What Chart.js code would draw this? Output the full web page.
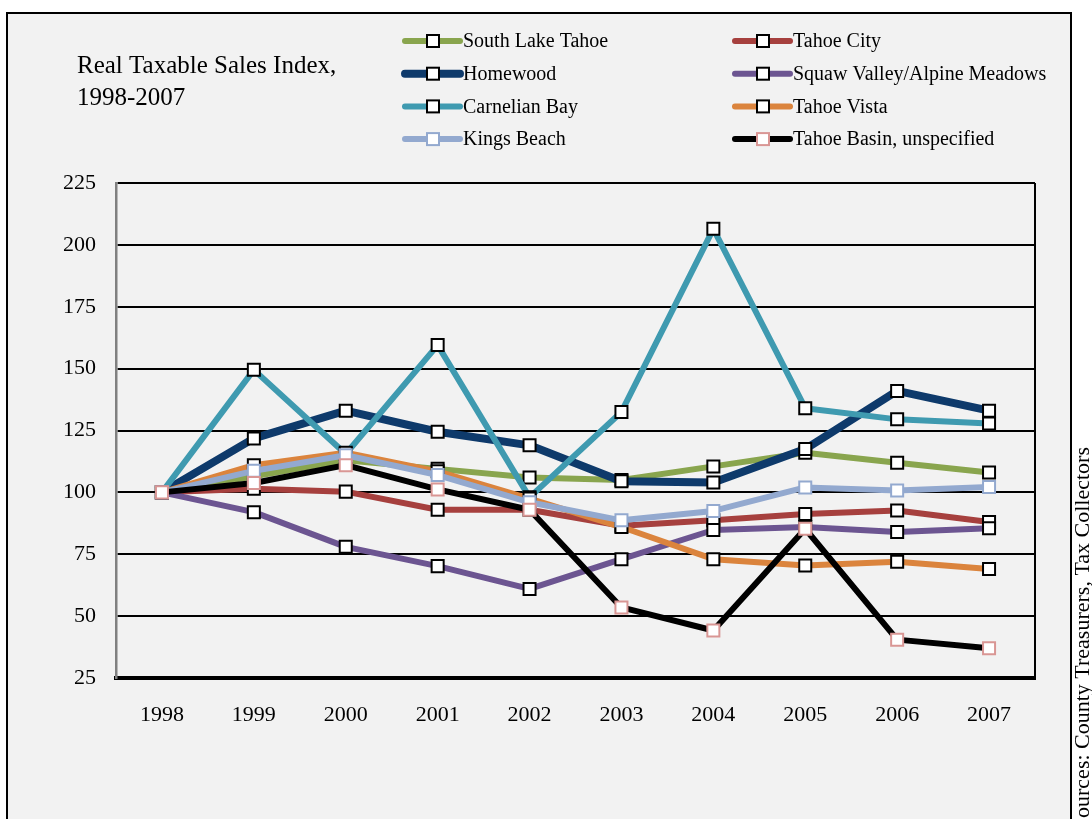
<!DOCTYPE html>
<html>
<head>
<meta charset="utf-8">
<script src="https://cdn.jsdelivr.net/npm/chart.js@4.4.1/dist/chart.umd.min.js"></script>
<style>
  html, body { margin: 0; padding: 0; background: #fff; }
  #wrap { width: 1092px; height: 819px; }
</style>
</head>
<body>
<div id="wrap"><canvas id="c" width="1092" height="819"></canvas></div>
<script>
var years = ['1998', '1999', '2000', '2001', '2002', '2003', '2004', '2005', '2006', '2007'];
var yTicks = [25, 50, 75, 100, 125, 150, 175, 200, 225];

var southLakeTahoe = [100, 106.5, 113, 109.5, 106, 105, 110.5, 116, 112, 108];
var tahoeCity = [100, 101.5, 100.3, 93, 93, 86.5, 88.7, 91.3, 92.7, 88];
var homewood = [100, 121.8, 133, 124.5, 119, 104.5, 104, 117.5, 141, 133];
var squawValley = [100, 92, 78, 70.2, 61, 73, 84.8, 86, 84, 85.5];
var carnelianBay = [100, 149.5, 115.5, 159.5, 98, 132.5, 206.5, 134, 129.5, 127.8];
var tahoeVista = [100, 111, 116, 108.5, 97.5, 86, 73, 70.5, 72, 69];
var kingsBeach = [100, 108.7, 115, 107, 96, 88.7, 92.5, 102, 100.8, 102.2];
var tahoeBasin = [100, 103.8, 111, 101.2, 93, 53.5, 44.2, 85.3, 40.5, 37];

var titleLines = ['Real Taxable Sales Index,', '1998-2007'];
var sourceText = 'Sources: County Treasurers, Tax Collectors';
var serif = '"Liberation Serif", "Times New Roman", serif';

function series(label, data, color, width, markerColor) {
  return {
    label: label,
    data: data,
    borderColor: color,
    backgroundColor: color,
    borderWidth: width,
    fill: false,
    tension: 0,
    borderJoinStyle: 'round',
    pointStyle: 'rect',
    pointRadius: 8.5,
    pointHoverRadius: 8.5,
    pointBackgroundColor: '#fff',
    pointBorderColor: markerColor || '#000',
    pointBorderWidth: 2
  };
}

var datasets = [
  series('South Lake Tahoe', southLakeTahoe, '#89a54e', 6),
  series('Tahoe City', tahoeCity, '#a6403e', 6),
  series('Homewood', homewood, '#0e3a6b', 8),
  series('Squaw Valley/Alpine Meadows', squawValley, '#6c5591', 6),
  series('Carnelian Bay', carnelianBay, '#3f9ab0', 6),
  series('Tahoe Vista', tahoeVista, '#db843d', 6),
  series('Kings Beach', kingsBeach, '#93a9cf', 6, '#93a9cf'),
  series('Tahoe Basin, unspecified', tahoeBasin, '#000', 6, '#d99694')
];
// later series on top, like the original
datasets.forEach(function (d, i) { d.order = datasets.length - i; });

var decor = {
  id: 'decor',
  beforeDraw: function (chart) {
    var ctx = chart.ctx;
    ctx.save();
    ctx.fillStyle = '#fff';
    ctx.fillRect(0, 0, chart.width, chart.height);
    ctx.fillStyle = '#f2f2f2';
    ctx.fillRect(7, 13, 1064, 830);
    ctx.strokeStyle = '#000';
    ctx.lineWidth = 2;
    ctx.strokeRect(7, 13, 1064, 830);
    ctx.restore();
  },
  afterDraw: function (chart) {
    var ctx = chart.ctx;
    var area = chart.chartArea;
    ctx.save();

    // right edge of the plot
    ctx.strokeStyle = '#000';
    ctx.lineWidth = 2;
    ctx.beginPath();
    ctx.moveTo(area.right, area.top);
    ctx.lineTo(area.right, area.bottom);
    ctx.stroke();

    // title
    ctx.fillStyle = '#000';
    ctx.font = '25px ' + serif;
    ctx.textAlign = 'left';
    ctx.textBaseline = 'alphabetic';
    titleLines.forEach(function (t, i) { ctx.fillText(t, 77, 73 + i * 32); });

    // legend, two columns
    ctx.font = '20px ' + serif;
    ctx.textBaseline = 'middle';
    chart.data.datasets.forEach(function (d, i) {
      var x0 = (i % 2) ? 735 : 405;
      var y = 41 + Math.floor(i / 2) * 32.7;
      ctx.strokeStyle = d.borderColor;
      ctx.lineWidth = d.borderWidth;
      ctx.lineCap = 'round';
      ctx.beginPath();
      ctx.moveTo(x0, y);
      ctx.lineTo(x0 + 55, y);
      ctx.stroke();
      ctx.fillStyle = '#fff';
      ctx.fillRect(x0 + 22, y - 6, 12, 12);
      ctx.strokeStyle = d.pointBorderColor;
      ctx.lineWidth = 2;
      ctx.strokeRect(x0 + 22, y - 6, 12, 12);
      ctx.fillStyle = '#000';
      ctx.fillText(d.label, x0 + 58, y + 1);
    });

    // source note, rotated
    ctx.translate(1083, 447);
    ctx.rotate(-Math.PI / 2);
    ctx.font = '22px ' + serif;
    ctx.textAlign = 'left';
    ctx.textBaseline = 'middle';
    var w = ctx.measureText(sourceText).width;
    ctx.fillText(sourceText, -w, 0);
    ctx.restore();
  }
};

new Chart(document.getElementById('c'), {
  type: 'line',
  data: { labels: years, datasets: datasets },
  options: {
    responsive: false,
    animation: false,
    devicePixelRatio: 1,
    layout: { padding: { left: 20, right: 57, top: 183, bottom: 81 } },
    plugins: { legend: { display: false }, tooltip: { enabled: false }, title: { display: false } },
    scales: {
      x: {
        offset: true,
        grid: { display: false },
        border: { display: true, color: '#000', width: 4 },
        ticks: { color: '#000', font: { family: serif, size: 22 }, padding: 16, maxRotation: 0 },
        afterFit: function (s) { s.height = 60; }
      },
      y: {
        min: 25,
        max: 225,
        afterBuildTicks: function (s) { s.ticks = yTicks.map(function (v) { return { value: v }; }); },
        grid: { color: '#000', lineWidth: 2, drawTicks: false },
        border: { display: true, color: '#808080', width: 2.5 },
        ticks: { color: '#000', font: { family: serif, size: 22 }, padding: 20 },
        afterFit: function (s) { s.width = 96; }
      }
    }
  },
  plugins: [decor]
});
</script>
</body>
</html>
